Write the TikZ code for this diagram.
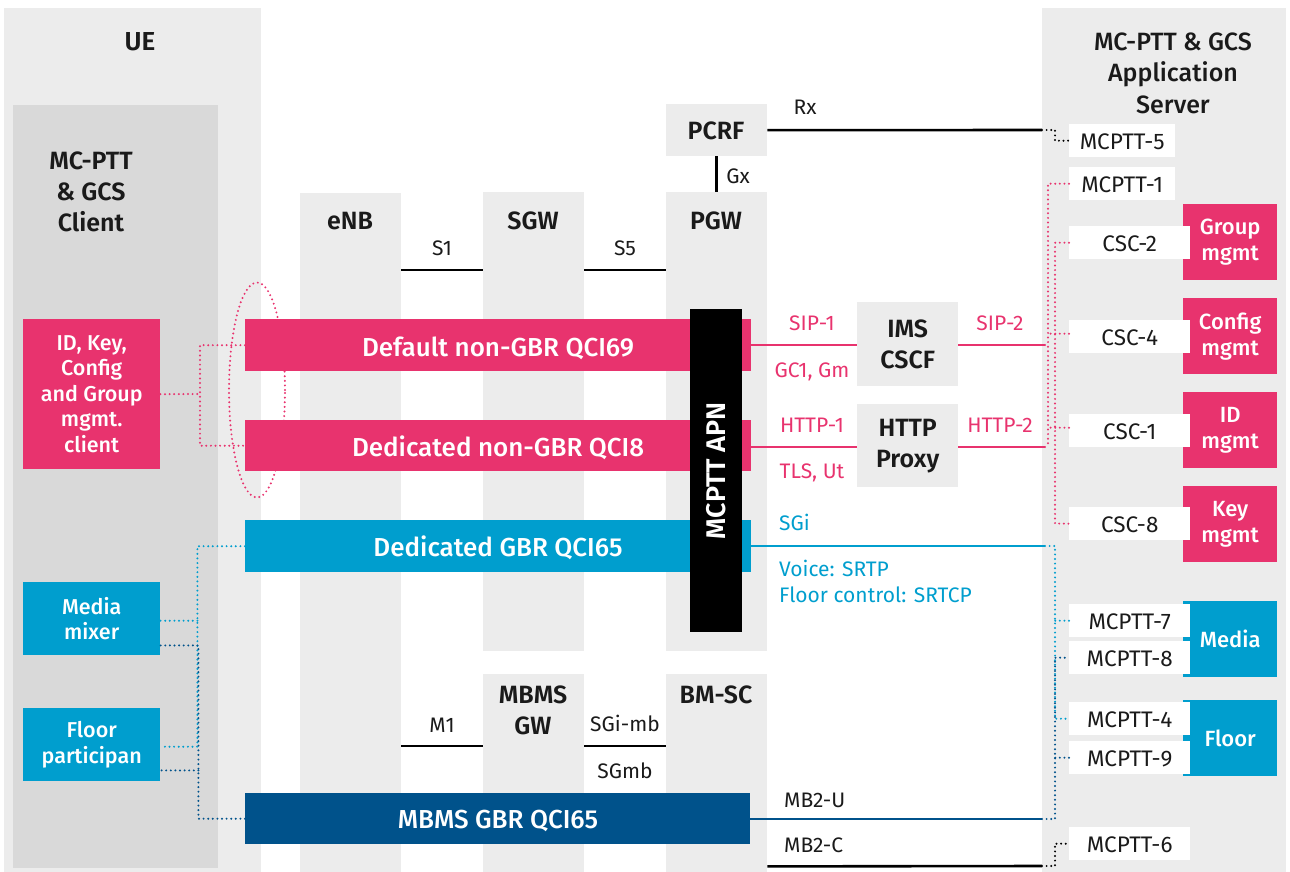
\documentclass[tikz,border=0pt]{standalone}
\usepackage{fontspec}
\setmainfont{Fira Sans}[BoldFont={Fira Sans SemiBold}]
\newfontfamily\medfont{Fira Sans Medium}
\usetikzlibrary{calc,shapes.geometric}
\definecolor{pk}{HTML}{E8336E}
\definecolor{lb}{HTML}{009ECE}
\definecolor{db}{HTML}{00528B}
\definecolor{g1}{HTML}{ECECEC}
\definecolor{g2}{HTML}{D9D9D9}
\definecolor{tx}{HTML}{1A1A1A}
\tikzset{
  box/.style={draw=none, inner sep=0pt, anchor=north west},
  col/.style={box, fill=g1},
  ttl/.style={font=\fontsize{25}{31}\selectfont\bfseries, text=tx, align=center, inner sep=0pt},
  lbl/.style={font=\fontsize{21}{26}\selectfont, text=tx, anchor=mid, inner sep=0pt},
  bear/.style={box, minimum width=506pt},
  wlab/.style={box, fill=white, minimum height=33pt},
  wtxt/.style={font=\fontsize{22.5}{26}\selectfont, text=tx, anchor=mid},
  cbox/.style={box, minimum width=94pt, minimum height=76pt, font=\fontsize{22}{26}\selectfont\medfont, text=white, align=center},
  lbox/.style={box, minimum width=137pt, font=\fontsize{21.5}{25.5}\selectfont\medfont, text=white, align=center},
  solid line/.style={line width=2.6pt},
  cline/.style={line width=2.2pt},
  dots/.style={line width=2.2pt, dash pattern=on 0pt off 4.6pt, line cap=round},
  beartxt/.style={font=\fontsize{26}{30}\selectfont\medfont, text=white, anchor=mid},
}
\begin{document}
\begin{tikzpicture}[x=1pt,y=-1pt]
\useasboundingbox (0,0) rectangle (1290,872);
% panels
\node[col, minimum width=257pt, minimum height=864pt] (ue) at (4,8) {};
\node[box, fill=g2, minimum width=205pt, minimum height=763pt] (client) at (13,105) {};
\node[col, minimum width=244pt, minimum height=864pt] (as) at (1042,8) {};
\node[col, minimum width=101pt, minimum height=679pt] (enb) at (300,193) {};
\node[col, minimum width=101pt, minimum height=459pt] (sgw) at (483,192) {};
\node[col, minimum width=101pt, minimum height=459pt] (pgw) at (666,192) {};
\node[col, minimum width=101pt, minimum height=198pt] (mbmsgw) at (483,674) {};
\node[col, minimum width=101pt, minimum height=198pt] (bmsc) at (666,674) {};
\node[col, minimum width=101pt, minimum height=52pt] (pcrf) at (666,104) {};
% titles
\node[ttl, font=\fontsize{26}{31}\selectfont\bfseries] (uet) at (140,42) {UE};
\node[ttl] (clientt) at (91,192) {MC-PTT\\\& GCS\\Client};
\node[ttl, font=\fontsize{25}{31.5}\selectfont\medfont] (ast) at (1173,73) {MC-PTT \& GCS\\Application\\Server};
\node[ttl, anchor=mid] (enbt) at (350,227) {eNB};
\node[ttl, anchor=mid] (sgwt) at (533,227) {SGW};
\node[ttl, anchor=mid] (pgwt) at (716,227) {PGW};
\node[ttl, anchor=mid] (pcrft) at (716,137) {PCRF};
\node[ttl] (mbmsgwt) at (533,710) {MBMS\\GW};
\node[ttl, anchor=mid] (bmsct) at (716,701) {BM-SC};
% core links
\draw[solid line] (pcrf.south) -- (pgw.north);
\node[lbl] (gx) at (738,181) {Gx};
\coordinate (rxend) at (1042,130);
\draw[solid line] (pcrf.east) -- (rxend);
\node[lbl] (rx) at (805,112) {Rx};
\draw[solid line] ($(enb.north east)+(0,77)$) -- ($(sgw.north west)+(0,78)$);
\node[lbl] (s1) at (442,253) {S1};
\draw[solid line] ($(sgw.north east)+(0,78)$) -- ($(pgw.north west)+(0,78)$);
\node[lbl] (s5) at (625,253) {S5};
\draw[solid line] ($(enb.north east)+(0,553)$) -- ($(mbmsgw.north west)+(0,72)$);
\node[lbl] (m1l) at (442,730) {M1};
\draw[solid line] ($(mbmsgw.north east)+(0,72)$) -- ($(bmsc.north west)+(0,72)$);
\node[lbl] (sgimb) at (625,729) {SGi-mb};
\node[lbl] (sgmb) at (625,776) {SGmb};
% ellipse behind bearers
\node[draw=pk, dots, ellipse, minimum width=56pt, minimum height=215pt, inner sep=0pt] (ell) at (257,390) {};
% bearers
\node[bear, fill=pk, minimum height=52pt] (def) at (245,319) {};
\node[bear, fill=pk, minimum height=51pt] (ded) at (245,420) {};
\node[bear, fill=lb, minimum height=52pt] (gbr) at (245,520) {};
\node[bear, fill=db, minimum height=51pt, minimum width=505pt] (mbms) at (245,793) {};
\node[beartxt] (deft) at (498,354) {Default non-GBR QCI69};
\node[beartxt] (dedt) at (498,454) {Dedicated non-GBR QCI8};
\node[beartxt] (gbrt) at (498,554) {Dedicated GBR QCI65};
\node[beartxt] (mbmst) at (498,826) {MBMS GBR QCI65};
% APN
\node[box, fill=black, minimum width=52pt, minimum height=323pt] (apn) at (690,309) {};
\node[font=\fontsize{27}{30}\selectfont\bfseries, text=white, rotate=90] (apnt) at (apn.center) {MCPTT APN};
% IMS and HTTP
\node[col, minimum width=101pt, minimum height=84pt] (ims) at (857,302) {};
\node[ttl] (imst) at (ims.center) {IMS\\CSCF};
\node[col, minimum width=101pt, minimum height=83pt] (http) at (857,404) {};
\node[ttl] (httpt) at (http.center) {HTTP\\Proxy};
% right boxes
\node[wlab, minimum width=106pt] (m5) at (1069,124) {};
\node[wlab, minimum width=106pt] (m1) at (1069,167) {};
\node[cbox, fill=pk] (grp) at (1183,204) {Group\\mgmt};
\node[cbox, fill=pk] (cfg) at (1183,298) {Config\\mgmt};
\node[cbox, fill=pk] (idm) at (1183,392) {ID\\mgmt};
\node[cbox, fill=pk] (key) at (1183,486) {Key\\mgmt};
\node[cbox, fill=lb] (media) at (1183,601) {Media};
\node[cbox, fill=lb] (floor) at (1183,700) {Floor};
\node[wlab, minimum width=121pt] (c2) at (1069,226) {};
\node[wlab, minimum width=121pt] (c4) at (1069,320) {};
\node[wlab, minimum width=121pt] (c1) at (1069,414) {};
\node[wlab, minimum width=121pt] (c8) at (1069,507) {};
\node[wlab, minimum width=121pt] (m7) at (1069,604) {};
\node[wlab, minimum width=121pt] (m8) at (1069,641) {};
\node[wlab, minimum width=121pt] (m4) at (1069,702) {};
\node[wlab, minimum width=121pt] (m9) at (1069,741) {};
\node[wlab, minimum width=121pt] (m6) at (1069,827) {};
\foreach \n/\t in {m5/MCPTT-5, m1/MCPTT-1, c2/CSC-2, c4/CSC-4, c1/CSC-1, c8/CSC-8, m7/MCPTT-7, m8/MCPTT-8, m4/MCPTT-4, m9/MCPTT-9, m6/MCPTT-6}
  \node[wtxt] (\n t) at ($(\n.center)+(0,6.5)$) {\t};
% left boxes
\node[lbox, fill=pk, minimum height=150pt] (idk) at (23,319) {ID, Key,\\Config\\and Group\\mgmt.\\client};
\node[lbox, fill=lb, minimum height=73pt] (mix) at (23,582) {Media\\mixer};
\node[lbox, fill=lb, minimum height=73pt] (flr) at (23,708) {Floor\\participan};
% SIP / HTTP / SGi / MB2
\coordinate (sipend) at (1045,345);
\coordinate (httpend) at (1045,447);
\coordinate (sgiend) at (1045,546);
\coordinate (mbuend) at (1042,819);
\coordinate (mbcend) at (1042,866);
\draw[cline, pk] (def.east) -- (def.east -| ims.west);
\draw[cline, pk] (ims.east |- sipend) -- (sipend);
\draw[cline, pk] (http.west |- httpend) -- (httpend -| ded.east);
\draw[cline, pk] (http.east |- httpend) -- (httpend);
\draw[cline, lb] (gbr.east |- sgiend) -- (sgiend);
\draw[cline, db] (mbms.east |- mbuend) -- (mbuend);
\draw[solid line] ($(bmsc.south east)+(0,-6)$) -- (mbcend);
\node[lbl, text=pk] (sip1) at (812,328) {SIP-1};
\node[lbl, text=pk] (gc1) at (812,375) {GC1, Gm};
\node[lbl, text=pk] (sip2) at (1000,328) {SIP-2};
\node[lbl, text=pk] (http1) at (812,430) {HTTP-1};
\node[lbl, text=pk] (tls) at (812,476) {TLS, Ut};
\node[lbl, text=pk] (http2) at (1000,430) {HTTP-2};
\node[lbl, text=lb, anchor=mid west] (sgi) at (779,528) {SGi};
\node[lbl, text=lb, anchor=mid west] (voice) at (779,574) {Voice: SRTP};
\node[lbl, text=lb, anchor=mid west] (fc) at (779,600) {Floor control: SRTCP};
\node[lbl, anchor=mid west] (mb2u) at (784,805) {MB2-U};
\node[lbl, anchor=mid west] (mb2c) at (784,850) {MB2-C};
% right dotted connectors
\coordinate (pa) at (1048,447);
\coordinate (pb) at (1055,523.5);
\draw[dots, pk] (m1.west) -| (pa);
\draw[dots, pk] (sipend) -- (sipend -| pa);
\draw[dots, pk] (httpend) -- (httpend -| pa);
\draw[dots, pk] (c2.west) -| (pb) -- (c8.west);
\draw[dots, pk] ($(c4.west)+(0,-3)$) -- ($(c4.west -| pa)+(0,-3)$);
\draw[dots, pk] ($(c1.west)+(0,-3)$) -- ($(c1.west -| pa)+(0,-3)$);
\coordinate (k1) at (1055,130);
\coordinate (k2) at (1055,866);
\draw[dots, black] (rxend) -- (k1) |- (m5.west);
\draw[dots, black] (mbcend) -- (k2) |- (m6.west);
\coordinate (b1) at (1055,546);
\coordinate (d1) at (1055,819);
\draw[dots, lb] (sgiend) -- (b1) |- (m4.west);
\draw[dots, lb] (m7.west) -- (m7.west -| b1);
\draw[dots, db] (mbuend) -- (d1) |- (m8.west);
\draw[dots, db] (m9.west) -- (m9.west -| d1);
% left dotted connectors
\coordinate (lp) at (200,394);
\draw[dots, pk] (def.west) -| (lp) |- (ded.west);
\draw[dots, pk] (idk.east) -- (lp);
\coordinate (lbm) at ($(mix.east)+(37,2)$);
\coordinate (lbf) at ($(flr.east)+(37,2)$);
\draw[dots, lb] (gbr.west) -| (lbf) -- (lbf -| flr.east);
\draw[dots, lb] (lbm) -- (lbm -| mix.east);
\coordinate (ldm) at ($(mix.south east)+(38,-10)$);
\coordinate (ldf) at ($(flr.south east)+(38,-11)$);
\draw[dots, db] (mbms.west) -| (ldm) -- (ldm -| mix.east);
\draw[dots, db] (ldf) -- (ldf -| flr.east);
\end{tikzpicture}
\end{document}
